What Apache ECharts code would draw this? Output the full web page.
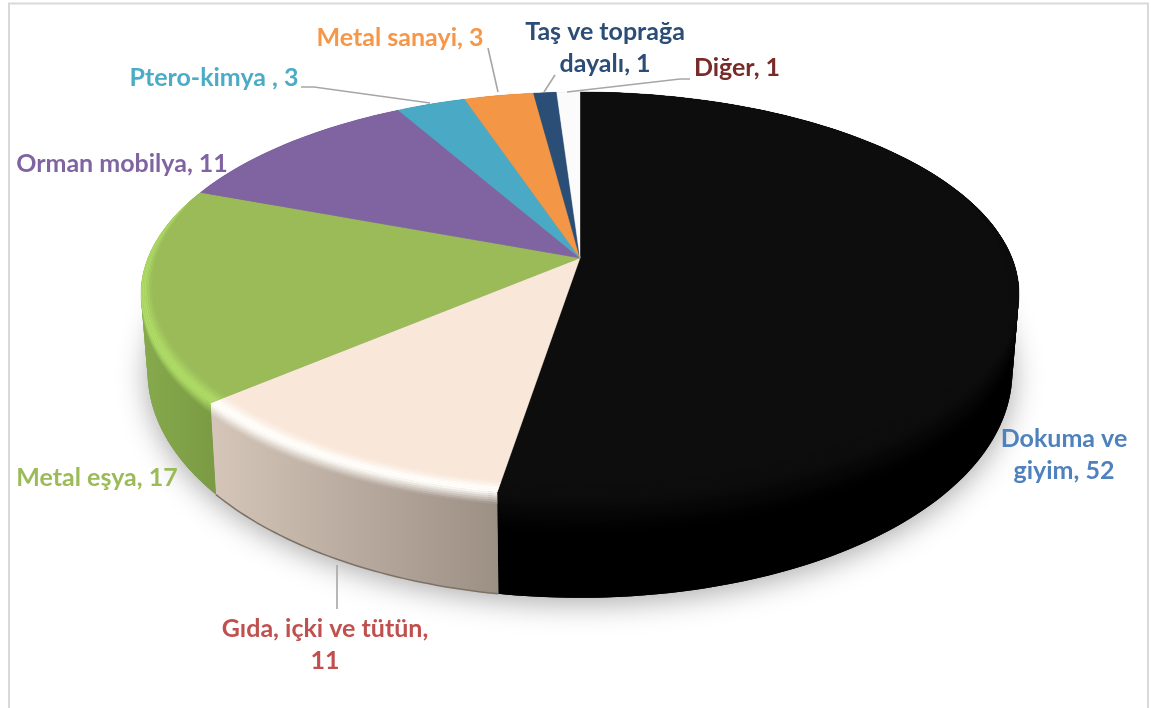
<!DOCTYPE html>
<html><head><meta charset="utf-8">
<style>html,body{margin:0;padding:0;background:#fff;overflow:hidden}#c{width:1151px;height:708px}</style>
<script src="https://cdn.jsdelivr.net/npm/echarts@6/dist/echarts.min.js"></script>
</head><body><div id="c"></div>
<script>
// ---- data
const categories = ['Dokuma ve\ngiyim','Gıda, içki ve tütün,\n','Metal eşya','Orman mobilya','Ptero-kimya ','Metal sanayi','Taş ve toprağa\ndayalı','Diğer'];
const values = [52,11,17,11,3,3,1,1];
// ---- styles
const faceColors = ['#0d0d0d','#f9e8da','#9bbb59','#8064a2','#4aa9c4','#f39645','#2b4e77','#fbfbfb'];
const rimColors  = ['#0d0d0d','#fffefb','#aedb66','#8064a2','#4aa9c4','#f39645','#2b4e77','#fbfbfb'];
const sideFrom   = ['#000000','#d4c5b8','#86a94c','#6a5387','#3e8da3','#c97a38','#234060','#d0d0d0'];
const sideTo     = ['#000000','#9c8f84','#7a9a43','#6a5387','#3e8da3','#c97a38','#234060','#d0d0d0'];
const labelColors = ['#4f81bd','#c0504d','#9bbb59','#8064a2','#4bacc6','#f79646','#2c4d75','#772c2a'];
// ---- layout (projection of the disc and label placement, in px)
const P = {cx:580, cy:258, A:432, B:195.5, k:0.178, shrink:0.985, d0:72, d1:30, bevel:0.04, lip:12, softLip:36};
const labelPos = [[1064,455],[325,645],[97,478],[122,164],[214,78],[400,38],[605,48],[737,68]];
const leaders = [null,[[337,565],[337,609]],null,null,
  [[301,87],[314,87],[430,103]],[[488,48],[498,92]],[[555,75],[544,92]],[[690,79],[680,79],[567,92]]];

const total = values.reduce((a,b)=>a+b,0);
const startOf = i => values.slice(0,i).reduce((a,b)=>a+b,0);
const ang = v => v/total*2*Math.PI;
function topPt(t,r){ const u=r*Math.sin(t), v=r*Math.cos(t), q=1+P.k*v;
  return [P.cx+P.A*u/q, P.cy-P.B*v/q]; }
function botPt(t){ const p=topPt(t,1), v=Math.cos(t);
  return [P.cx+(p[0]-P.cx)*P.shrink, p[1]+P.d0-P.d1*v]; }
function arc(a0,a1,f){ const n=Math.max(2,Math.ceil((a1-a0)/(Math.PI/180))), o=[];
  for(let i=0;i<=n;i++) o.push(f(a0+(a1-a0)*i/n)); return o; }
function mix(c1,c2,w){ const h=c=>[1,3,5].map(i=>parseInt(c.substr(i,2),16));
  const a=h(c1),b=h(c2); return 'rgb('+a.map((x,i)=>Math.round(x+(b[i]-x)*w)).join(',')+')'; }
function taper(t){ const x=(0.3-Math.cos(t))/1.0; return Math.pow(Math.min(1,Math.max(0,x)),0.6); }
const range = idx => { const s=startOf(idx); return [ang(s),ang(s+values[idx])]; };
// separate overlapping quads: one outline around a strip folds at the silhouette and leaves a hole
function strip(up,lo,fill){ const o=[], m=up.length-1;
  for(let j=0;j<m;j++){ const e=Math.min(m,j+2);
    o.push({type:'polygon',shape:{points:[up[j],up[e],lo[e],lo[j]]},style:{fill:fill}}); }
  return o; }

function renderShadow(){
  const pts=arc(0,2*Math.PI,botPt);
  return {type:'polygon',shape:{points:pts},style:{fill:'#888',shadowColor:'rgba(0,0,0,0.34)',shadowBlur:30,shadowOffsetY:5}};
}
function renderSide(params,api){
  const i=params.dataIndex,[a0,a1]=range(i);
  const up=arc(a0,a1,t=>topPt(t,1)), lo=arc(a0,a1,botPt);
  const grad=(c0,c1)=> i===1||i===2
    ? new echarts.graphic.LinearGradient(i===2?145:215,0,i===2?217:498,0,[{offset:0,color:c0},{offset:1,color:c1}],true)
    : new echarts.graphic.LinearGradient(0,340,0,450,[{offset:0,color:c0},{offset:1,color:c1}],true);
  const kids=strip(up,lo,grad(sideFrom[i],sideTo[i]));
  if(i===1) kids.push({type:'polyline',shape:{points:lo},style:{fill:null,stroke:'#7d7166',lineWidth:1.5}});
  // soft lip: the highlight running down from the top edge onto the side
  const N=i===0?10:6, depth=t=>i===0?P.softLip:P.lip*taper(t);
  const off=(t,w)=>{const p=topPt(t,1),q=botPt(t),f=Math.min(1,depth(t)*w/(q[1]-p[1]));return [p[0]+(q[0]-p[0])*f,p[1]+(q[1]-p[1])*f];};
  const toHex=c=>{const m=c.match(/\d+/g).map(Number);return '#'+m.map(x=>x.toString(16).padStart(2,'0')).join('');};
  for(let b=N-1;b>=0;b--){
    const w0=b/N,w1=(b+1)/N,w=(w0+w1)/2;
    const u=arc(a0,a1,t=>off(t,w0)),l=arc(a0,a1,t=>off(t,w1));
    const c0=toHex(mix(rimColors[i],sideFrom[i],w)),c1=toHex(mix(rimColors[i],sideTo[i],w));
    kids.push(...strip(u,l,grad(c0,c1)));
  }
  return {type:'group',children:kids};
}
function renderTop(params,api){
  const i=params.dataIndex,[a0,a1]=range(i), kids=[];
  const wedge=[[P.cx,P.cy]].concat(arc(a0,a1,t=>topPt(t,1)));
  kids.push({type:'polygon',shape:{points:wedge},style:{fill:faceColors[i],stroke:faceColors[i],lineWidth:0.4}});
  // bevel: nested bands, highlight at the edge -> face colour inward
  const N=7;
  for(let b=0;b<N;b++){
    const w0=b/N,w1=(b+1)/N;
    const outer=arc(a0,a1,t=>topPt(t,1-P.bevel*taper(t)*w0));
    const inner=arc(a0,a1,t=>topPt(t,1-P.bevel*taper(t)*w1));
    const w=(w0+w1)/2;
    const col = w<0.35 ? rimColors[i] : mix(rimColors[i],faceColors[i],(w-0.35)/0.65);
    kids.push({type:'polygon',shape:{points:outer.concat(inner.reverse())},style:{fill:col}});
  }
  return {type:'group',children:kids};
}
function renderLabel(params,api){
  const i=params.dataIndex,kids=[];
  (leaders[i]?[leaders[i]]:[]).forEach(l=>kids.push({type:'polyline',shape:{points:l},style:{fill:null,stroke:'#a6a6a6',lineWidth:1.6}}));
  const n=categories[i], sep=n.endsWith('\n')?'':', ';
  kids.push({type:'text',x:labelPos[i][0],y:labelPos[i][1],style:{
    text:n+sep+api.value(0),fill:labelColors[i],font:'bold 25px Lato',lineHeight:32,align:'center',verticalAlign:'middle'}});
  return {type:'group',children:kids};
}
const pieData=values.map((v,i)=>({name:categories[i],value:[v]}));
const base={type:'custom',coordinateSystem:'none',silent:true,clip:false,animation:false};
const chart=echarts.init(document.getElementById('c'),null,{renderer:'canvas',width:1151,height:708});
chart.setOption({
  animation:false,backgroundColor:'#fff',
  graphic:[{type:'rect',z:-1,shape:{x:9,y:3.5,width:1139,height:720},style:{fill:'none',stroke:'#d9d9d9',lineWidth:2}}],
  series:[
    Object.assign({},base,{z:1,data:[[total]],renderItem:renderShadow}),
    Object.assign({},base,{z:2,data:pieData,renderItem:renderSide}),
    Object.assign({},base,{z:3,data:pieData,renderItem:renderTop}),
    Object.assign({},base,{z:4,data:pieData,renderItem:renderLabel})
  ]
});
</script></body></html>
